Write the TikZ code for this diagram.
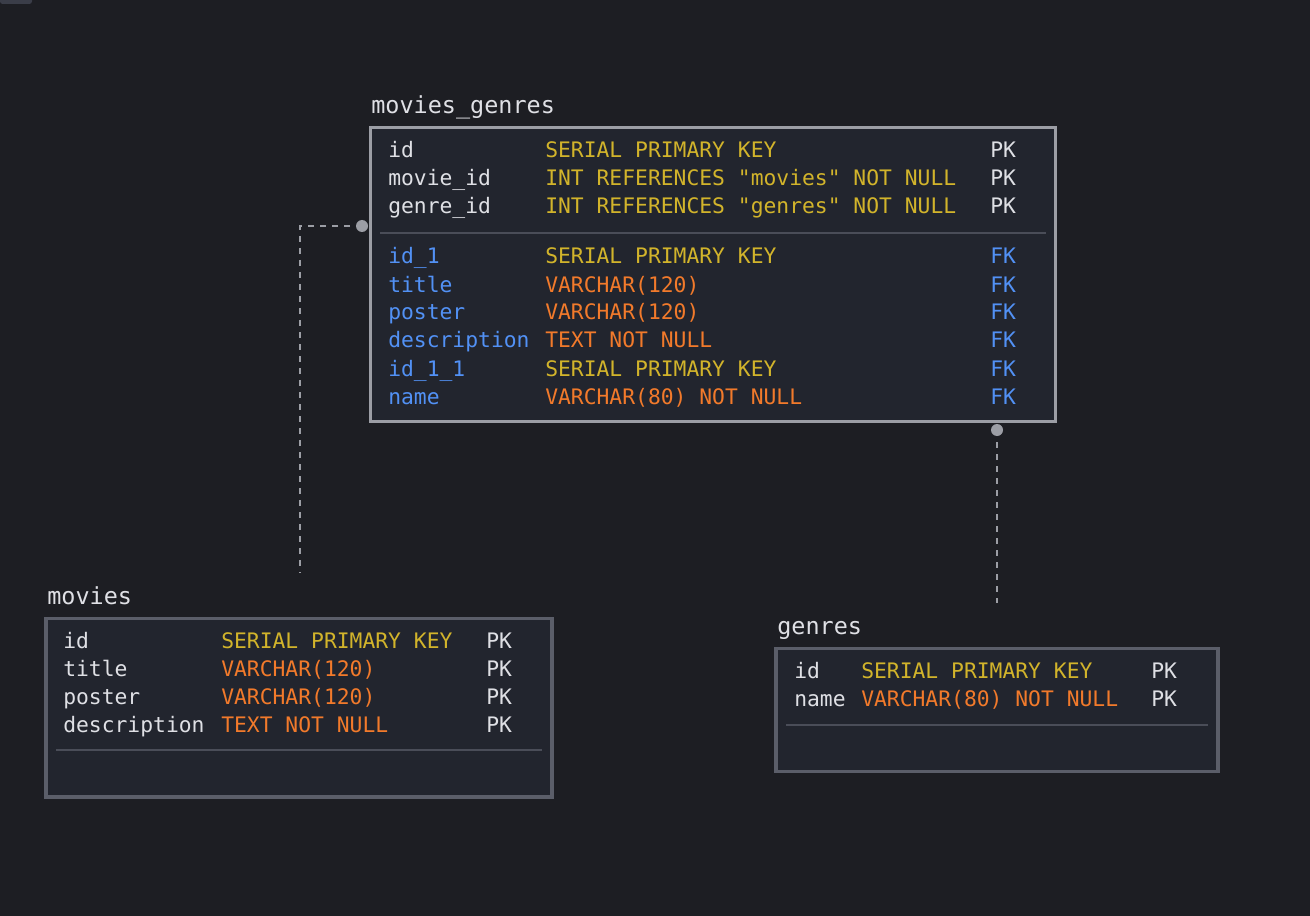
\documentclass[tikz,border=0pt]{standalone}
\usepackage{fontspec}
\setmonofont{DejaVu Sans Mono}

\definecolor{bgcol}{HTML}{1D1E23}
\definecolor{boxfill}{HTML}{22252E}
\definecolor{activegray}{HTML}{9C9EA5}
\definecolor{boxgray}{HTML}{5B5E69}
\definecolor{sepgray}{HTML}{4A4D58}
\definecolor{tabgray}{HTML}{3A3D48}
\definecolor{txtwhite}{HTML}{DFE0E5}
\definecolor{typeyellow}{HTML}{D2B42B}
\definecolor{typeorange}{HTML}{F27A2B}
\definecolor{colblue}{HTML}{5291F5}

\begin{document}
\begin{tikzpicture}[x=0.75pt,y=-0.75pt,
    tbltitle/.style={anchor=base west,inner sep=0pt,text=txtwhite,
        font=\ttfamily\fontsize{17.6}{20}\selectfont},
    row/.style={anchor=base west,inner sep=0pt,
        font=\ttfamily\fontsize{16}{20}\selectfont},
    tbl/.style={draw=boxgray,fill=boxfill,line width=2.6pt,
        anchor=north west,inner sep=0pt,outer sep=0pt},
    sepline/.style={draw=sepgray,line width=1.5pt},
    link/.style={draw=activegray,line width=1.5pt,dash pattern=on 4.5pt off 4.5pt},
    linkdot/.style={circle,fill=activegray,inner sep=0pt,minimum size=9pt}]

    % Background and page size
    \fill[bgcol] (0,0) rectangle (1310,916);
    \useasboundingbox (0,0) rectangle (1310,916);
    \fill[tabgray, rounded corners=2pt] (0,-4) rectangle (32,4);

    % Table boxes
    \node[tbl, draw=activegray, minimum width=513.75pt, minimum height=220.5pt]
        (mgbox) at (370.5,127.5) {};
    \node[tbl, minimum width=379.5pt, minimum height=133.9pt]
        (moviesbox) at (46,618.5) {};
    \node[tbl, minimum width=331.5pt, minimum height=92.25pt]
        (genresbox) at (776,648.5) {};

    % Table titles
    \node[tbltitle] (mgtitle) at (371,114) {movies\_genres};
    \node[tbltitle] (moviestitle) at (47,604) {movies};
    \node[tbltitle] (genrestitle) at (777,634) {genres};

    % Separators
    \draw[sepline] (380,233) -- (1046,233);
    \draw[sepline] (56,750) -- (542,750);
    \draw[sepline] (786,725) -- (1208,725);

    % movies_genres rows (own columns)
    \foreach \i/\y/\cname/\ctype/\tcol in {
        1/158/id/SERIAL PRIMARY KEY/typeyellow,
        2/186/movie\_id/INT REFERENCES "movies" NOT NULL/typeyellow,
        3/214/genre\_id/INT REFERENCES "genres" NOT NULL/typeyellow} {
        \node[row, text=txtwhite] (mgname\i) at (388,\y) {\cname};
        \node[row, text=\tcol] (mgtype\i) at (545,\y) {\ctype};
        \node[row, text=txtwhite] (mgkey\i) at (990,\y) {PK};
    }

    % movies_genres rows (joined columns)
    \foreach \i/\y/\cname/\ctype/\tcol in {
        4/264/id\_1/SERIAL PRIMARY KEY/typeyellow,
        5/292/title/VARCHAR(120)/typeorange,
        6/320/poster/VARCHAR(120)/typeorange,
        7/348/description/TEXT NOT NULL/typeorange,
        8/376/id\_1\_1/SERIAL PRIMARY KEY/typeyellow,
        9/404/name/VARCHAR(80) NOT NULL/typeorange} {
        \node[row, text=colblue] (mgname\i) at (388,\y) {\cname};
        \node[row, text=\tcol] (mgtype\i) at (545,\y) {\ctype};
        \node[row, text=colblue] (mgkey\i) at (990,\y) {FK};
    }

    % movies rows
    \foreach \i/\y/\cname/\ctype/\tcol in {
        1/648/id/SERIAL PRIMARY KEY/typeyellow,
        2/676/title/VARCHAR(120)/typeorange,
        3/704/poster/VARCHAR(120)/typeorange,
        4/732/description/TEXT NOT NULL/typeorange} {
        \node[row, text=txtwhite] (moviesname\i) at (63,\y) {\cname};
        \node[row, text=\tcol] (moviestype\i) at (221,\y) {\ctype};
        \node[row, text=txtwhite] (movieskey\i) at (486,\y) {PK};
    }

    % genres rows
    \foreach \i/\y/\cname/\ctype/\tcol in {
        1/678/id/SERIAL PRIMARY KEY/typeyellow,
        2/706/name/VARCHAR(80) NOT NULL/typeorange} {
        \node[row, text=txtwhite] (genresname\i) at (794,\y) {\cname};
        \node[row, text=\tcol] (genrestype\i) at (861,\y) {\ctype};
        \node[row, text=txtwhite] (genreskey\i) at (1151,\y) {PK};
    }

    % Links
    \node[linkdot] (mgdot1) at (362,226) {};
    \node[linkdot] (mgdot2) at (997,430) {};
    \coordinate (moviesend) at (300,573);
    \coordinate (genresend) at (997,603);
    \draw[link] (mgdot1.center) -| (moviesend);
    \draw[link] (mgdot2.south) ++(0,6) -- (genresend);

\end{tikzpicture}
\end{document}
